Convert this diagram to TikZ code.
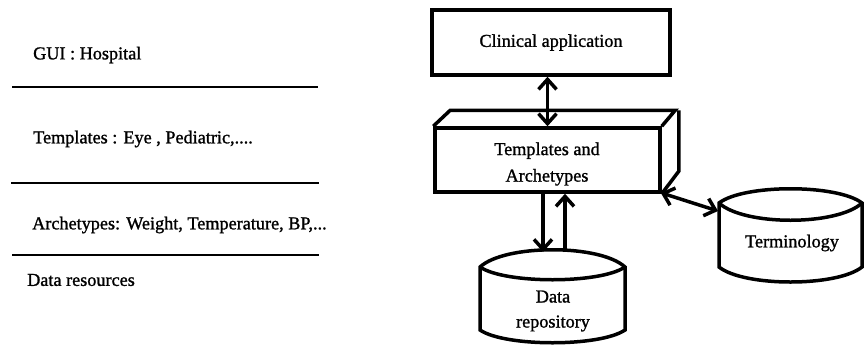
\documentclass[tikz,border=0pt]{standalone}
\usepackage{fontspec}
\setmainfont{Liberation Serif}[FakeBold=1.2]
\usetikzlibrary{arrows.meta}
\begin{document}
\begin{tikzpicture}[x=1pt,y=-1pt,
  txt/.style={font=\rmfamily\fontsize{18.2}{25}\selectfont, inner sep=0pt},
  boxed/.style={draw, line width=3.5pt, inner sep=0pt},
  layerline/.style={line width=2.8pt},
  shapeline/.style={line width=3.5pt, line join=miter},
  barb/.tip={Straight Barb[length=10pt,width=18pt]},
  link/.style={line width=3.5pt, -barb},
  twoway/.style={line width=3.5pt, barb-barb}]
\useasboundingbox (0,0) rectangle (864,349);

% layer list on the left
\node[txt, anchor=west] (gui) at (33,55) {GUI : Hospital};
\node[txt, anchor=west] (tpl) at (33,139) {Templates : Eye , Pediatric,....};
\node[txt, anchor=west] (arc) at (32,225) {Archetypes: Weight, Temperature, BP,...};
\node[txt, anchor=west] (res) at (27,280) {Data resources};
\draw[layerline] (12,87) -- (318,87);
\draw[layerline] (11,183) -- (319,183);
\draw[layerline] (12,255) -- (319,255);

% clinical application
\node[boxed, txt, minimum width=238pt, minimum height=65pt] (clin) at (551,42.5) {Clinical application};

% templates and archetypes block with depth faces
\node[boxed, txt, minimum width=225pt, minimum height=64pt, align=center] (tmpl) at (547.5,160) {};
\node[txt, align=center] (tmpltxt) at (547,164) {Templates and\\[1.5pt]Archetypes};
\draw[shapeline] (tmpl.north west) -- ++(17,-16) -- ++(225,0) -- (tmpl.north east);
\draw[shapeline] (tmpl.north east) ++(17,-16) -- ++(0,61) -- (tmpl.south east);

% data repository cylinder
\draw[shapeline] (480,267) .. controls (505,244) and (600,244) .. (625,267)
  -- (625,330) .. controls (600,347) and (505,347) .. (480,330) -- cycle;
\draw[shapeline] (480,267) .. controls (505,284) and (600,284) .. (625,267);
\node[txt, align=center] (repo) at (553,311) {Data\\[0pt]repository};
\coordinate (rin) at (543,252);
\coordinate (rout) at (565,252);

% terminology cylinder
\draw[shapeline] (719,203) .. controls (744,184) and (837,184) .. (862,203)
  -- (862,267) .. controls (837,287) and (744,287) .. (719,267) -- cycle;
\draw[shapeline] (719,203) .. controls (744,226) and (837,226) .. (862,203);
\node[txt] (term) at (792,243) {Terminology};
\coordinate (tin) at (718,211);

% connectors
\draw[twoway] (clin.south -| tmpl.north) -- (tmpl.north);
\draw[link] (tmpl.south -| rin) -- (rin);
\draw[link] (rout) -- (tmpl.south -| rout);
\draw[twoway] ([xshift=-1pt,yshift=1pt]tmpl.south east) -- (tin);
\end{tikzpicture}
\end{document}
